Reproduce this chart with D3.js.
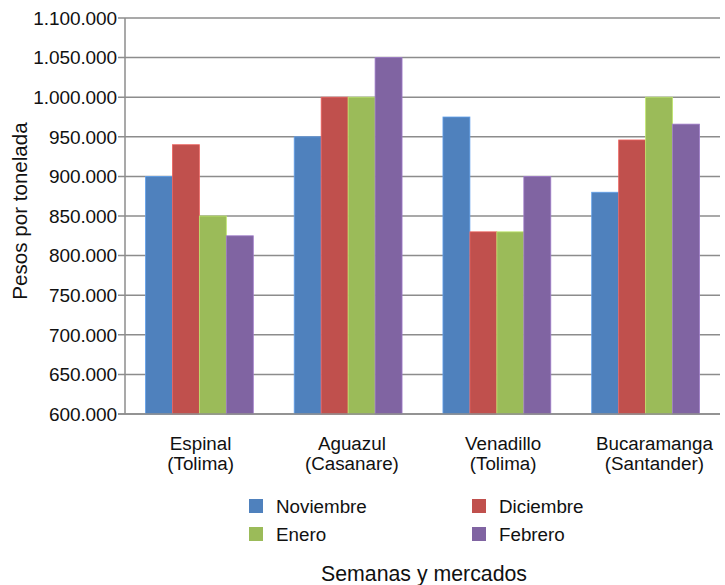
<!DOCTYPE html>
<html><head><meta charset="utf-8">
<script src="https://cdn.jsdelivr.net/npm/d3@7"></script>
<style>body{margin:0;background:#fff;font-family:"Liberation Sans",Arial,sans-serif;}</style>
</head><body><svg id="c" width="725" height="585"></svg>
<script>
const categories = [["Espinal","(Tolima)"],["Aguazul","(Casanare)"],["Venadillo","(Tolima)"],["Bucaramanga","(Santander)"]];
const seriesNames = ["Noviembre","Diciembre","Enero","Febrero"];
const noviembre = [900000, 950000, 975000, 880000];
const diciembre = [940000, 1000000, 830000, 946000];
const enero = [850000, 1000000, 830000, 1000000];
const febrero = [825000, 1050000, 900000, 966000];
const yTicks = [600000,650000,700000,750000,800000,850000,900000,950000,1000000,1050000,1100000];
const colors = ["#4F81BD","#C0504D","#9BBB59","#8064A2"];
const series = [noviembre, diciembre, enero, febrero];

const svg = d3.select("#c");
const L=125, R=720, T=18, B=414;
const fmt = v => d3.format(",")(v).replace(/,/g,".");
const y = d3.scaleLinear().domain([600000,1100000]).range([B,T]);
const x0 = d3.scaleBand().domain(d3.range(categories.length)).range([L,R]).paddingInner(0.275).paddingOuter(0.1375);
const x1 = d3.scaleBand().domain(d3.range(seriesNames.length)).range([0,x0.bandwidth()]);
const xl = d3.scaleBand().domain(d3.range(categories.length)).range([L,R+10]).paddingInner(0.275).paddingOuter(0.1375);

svg.append("g").selectAll("line").data(yTicks).join("line")
  .attr("x1",L-7).attr("x2",R).attr("y1",d=>y(d)).attr("y2",d=>y(d))
  .attr("stroke","#8c8c8c").attr("stroke-width",1.5);
svg.append("g").selectAll("text").data(yTicks).join("text")
  .attr("x",L-8).attr("y",d=>y(d)).attr("dy","0.36em").attr("text-anchor","end")
  .attr("font-size",19).attr("letter-spacing","-0.1").attr("fill","#111").text(fmt);

const g = svg.append("g");
categories.forEach((c,i)=>{
  series.forEach((s,j)=>{
    g.append("rect").attr("x",x0(i)+x1(j)).attr("width",x1.bandwidth())
     .attr("y",y(s[i])).attr("height",B-y(s[i]))
     .attr("fill",colors[j]).attr("stroke",d3.color(colors[j]).brighter(0.6)).attr("stroke-width",0.8);
  });
});
svg.append("line").attr("x1",L).attr("x2",L).attr("y1",T).attr("y2",B).attr("stroke","#8c8c8c").attr("stroke-width",1.5);
svg.append("line").attr("x1",L-7).attr("x2",R).attr("y1",B).attr("y2",B).attr("stroke","#8c8c8c").attr("stroke-width",1.5);

categories.forEach((c,i)=>{
  const cx = xl(i)+xl.bandwidth()/2;
  const t = svg.append("text").attr("x",cx).attr("y",450).attr("text-anchor","middle").attr("font-size",18.8).attr("fill","#111");
  t.append("tspan").attr("x",cx).text(c[0]);
  t.append("tspan").attr("x",cx).attr("dy",20).text(c[1]);
});

svg.append("text").attr("transform","translate(27,211) rotate(-90)").attr("text-anchor","middle")
  .attr("font-size",20.6).attr("fill","#111").text("Pesos por tonelada");

const legPos = [[249,506],[472,506],[249,534],[472,534]];
seriesNames.forEach((n,j)=>{
  const [lx,ly]=legPos[j];
  svg.append("rect").attr("x",lx).attr("y",ly-7).attr("width",14).attr("height",14).attr("fill",colors[j]);
  svg.append("text").attr("x",lx+27).attr("y",ly).attr("dy","0.36em").attr("font-size",18.8).attr("fill","#111").text(n);
});

svg.append("text").attr("x",424).attr("y",581).attr("text-anchor","middle").attr("font-size",21.3).attr("fill","#111").text("Semanas y mercados");
</script></body></html>
